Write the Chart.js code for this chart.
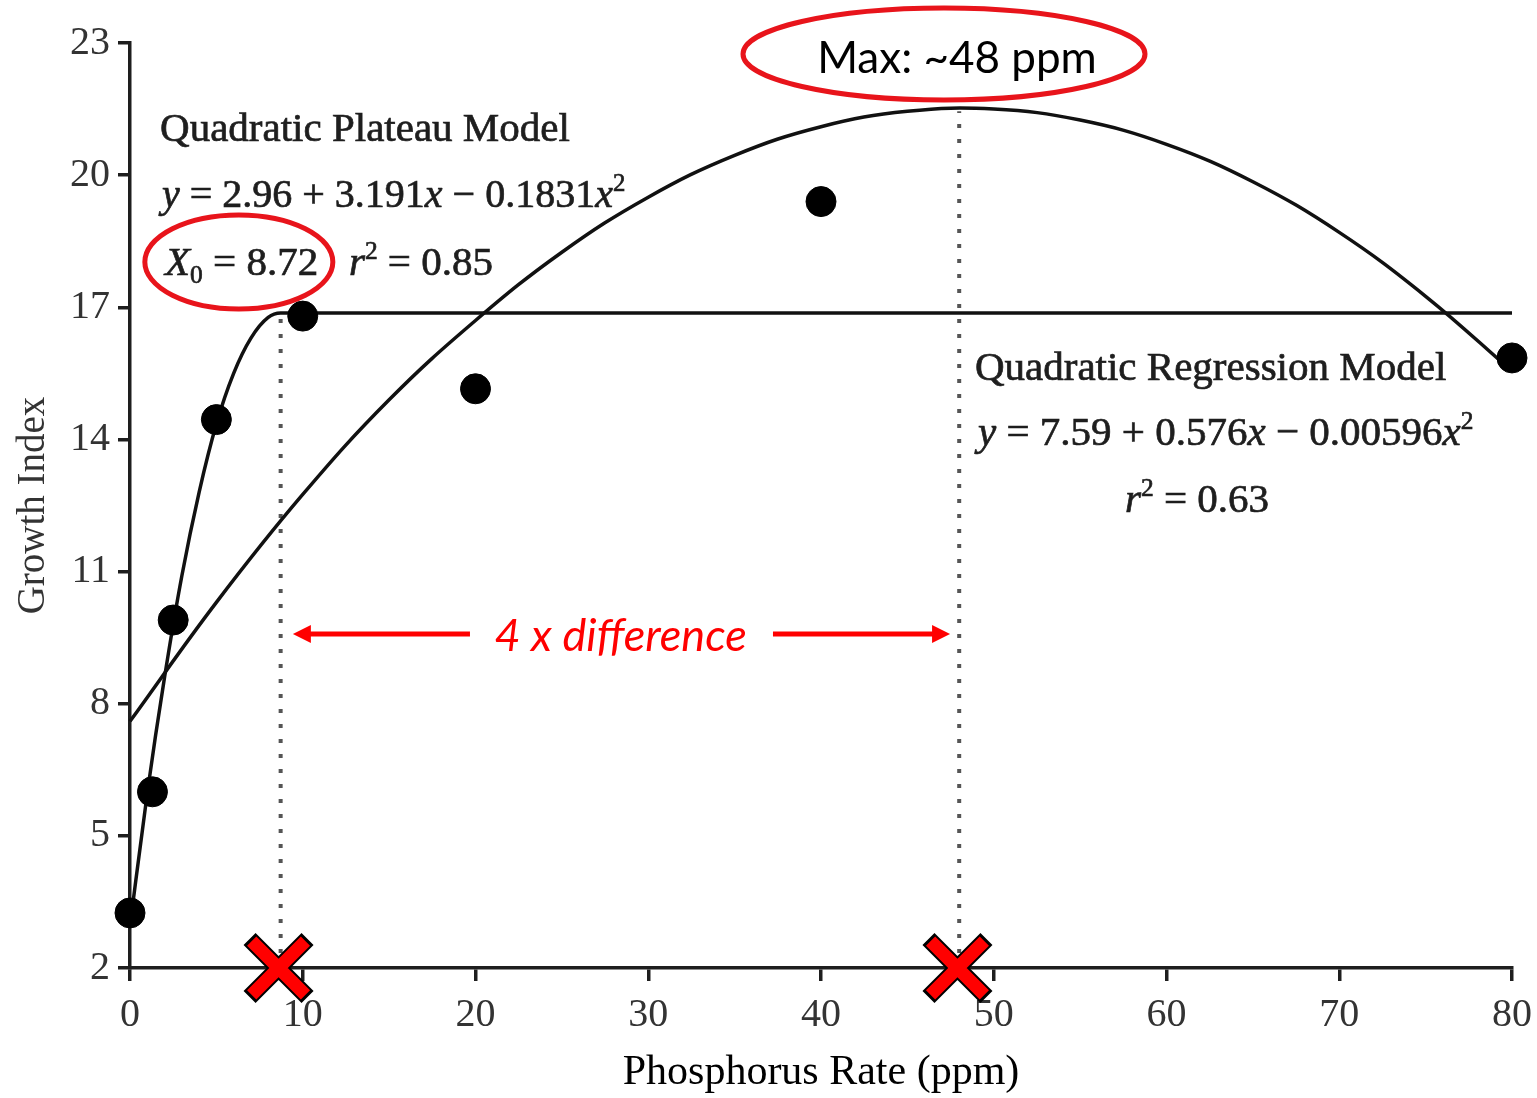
<html>

<head>
    <script src="https://cdn.jsdelivr.net/npm/chart.js"></script>
    <style>
        html,
        body {
            margin: 0;
            padding: 0;
            background: #fff;
        }

        #chart-container {
            width: 1537px;
            height: 1098px;
        }
    </style>
</head>

<body>
    <div id="chart-container">
        <canvas id="growth-chart"></canvas>
    </div>

    <script>
        // observed growth index at each phosphorus rate
        const observedRate = [0, 1.3, 2.5, 5, 10, 20, 40, 80];
        const observedGrowth = [3.25, 6.0, 9.9, 14.45, 16.8, 15.15, 19.4, 15.85];

        // quadratic plateau curve
        const plateauRate = [0, 1, 2, 3, 4, 5, 6, 7, 8, 8.72, 80];
        const plateauGrowth = [2.96, 5.97, 8.6, 10.9, 12.8, 14.35, 15.5, 16.3, 16.77, 16.87, 16.87];

        // quadratic regression curve
        const regressionRate = [0, 5, 10, 15, 20, 25, 30, 35, 40, 45, 50, 55, 60, 65, 70, 75, 80];
        const regressionGrowth = [7.6, 10.3, 12.75, 14.9, 16.7, 18.25, 19.5, 20.45, 21.1, 21.45, 21.5, 21.25, 20.7, 19.85, 18.7, 17.25, 15.55];

        // dotted guides and red crosses
        const guideRate = [8.72, 48];
        const guideTop = [16.87, 21.45];
        const crossRate = [8.6, 47.9];

        const xTicks = [0, 10, 20, 30, 40, 50, 60, 70, 80];
        const yTicks = [2, 5, 8, 11, 14, 17, 20, 23];

        const serif = '"Liberation Serif", "Times New Roman", serif';
        const sans = 'Lato, "Liberation Sans", sans-serif';

        const pts = (xs, ys) => xs.map((v, i) => ({ x: v, y: ys[i] }));

        function drawRuns(ctx, px, py, runs, size) {
            let cx = px;
            runs.forEach(r => {
                const s = (r.sup || r.sub) ? size * 0.62 : size;
                ctx.font = (r.it ? 'italic ' : '') + s + 'px ' + serif;
                const dy = r.sup ? -size * 0.4 : r.sub ? size * 0.2 : 0;
                ctx.fillText(r.t, cx, py + dy);
                ctx.strokeText(r.t, cx, py + dy);
                cx += ctx.measureText(r.t).width;
            });
        }

        function drawArrow(ctx, x1, x2, y) {
            const dir = x2 > x1 ? 1 : -1;
            ctx.beginPath();
            ctx.moveTo(x1, y);
            ctx.lineTo(x2 - dir * 12, y);
            ctx.stroke();
            ctx.beginPath();
            ctx.moveTo(x2, y);
            ctx.lineTo(x2 - dir * 18, y - 9);
            ctx.lineTo(x2 - dir * 18, y + 9);
            ctx.closePath();
            ctx.fill();
        }

        const notes = {
            id: 'notes',
            afterDatasetsDraw(chart) {
                const { ctx, scales: { x, y } } = chart;
                ctx.save();
                ctx.fillStyle = '#1e1e1e';
                ctx.strokeStyle = '#1e1e1e';
                ctx.lineWidth = 0.7;
                ctx.textBaseline = 'alphabetic';
                ctx.textAlign = 'left';

                // plateau model block
                drawRuns(ctx, x.getPixelForValue(1.74), y.getPixelForValue(20.77), [{ t: 'Quadratic Plateau Model' }], 41);
                drawRuns(ctx, x.getPixelForValue(1.85), y.getPixelForValue(19.28), [
                    { t: 'y', it: true }, { t: ' = 2.96 + 3.191' }, { t: 'x', it: true },
                    { t: ' − 0.1831' }, { t: 'x', it: true }, { t: '2', sup: true }
                ], 40);
                drawRuns(ctx, x.getPixelForValue(2.03), y.getPixelForValue(17.73), [
                    { t: 'X', it: true }, { t: '0', sub: true }, { t: ' = 8.72   ' },
                    { t: 'r', it: true }, { t: '2', sup: true }, { t: ' = 0.85' }
                ], 41);

                // regression model block
                drawRuns(ctx, x.getPixelForValue(48.91), y.getPixelForValue(15.35), [{ t: 'Quadratic Regression Model' }], 41);
                drawRuns(ctx, x.getPixelForValue(49.09), y.getPixelForValue(13.87), [
                    { t: 'y', it: true }, { t: ' = 7.59 + 0.576' }, { t: 'x', it: true },
                    { t: ' − 0.00596' }, { t: 'x', it: true }, { t: '2', sup: true }
                ], 41);
                drawRuns(ctx, x.getPixelForValue(57.6), y.getPixelForValue(12.35), [
                    { t: 'r', it: true }, { t: '2', sup: true }, { t: ' = 0.63' }
                ], 41);

                // max label
                ctx.fillStyle = '#000';
                ctx.textAlign = 'center';
                ctx.font = '44px ' + sans;
                ctx.fillText('Max: ~48 ppm', x.getPixelForValue(47.87), y.getPixelForValue(22.32));

                // red ellipses
                ctx.strokeStyle = '#e8141b';
                ctx.lineWidth = 5;
                ctx.beginPath();
                ctx.ellipse(x.getPixelForValue(6.3), y.getPixelForValue(18.03), 94, 47, 0, 0, Math.PI * 2);
                ctx.stroke();
                ctx.beginPath();
                ctx.ellipse(x.getPixelForValue(47.12), y.getPixelForValue(22.75), 201, 46, 0, 0, Math.PI * 2);
                ctx.stroke();

                // 4 x difference
                ctx.fillStyle = '#ff0000';
                ctx.strokeStyle = '#ff0000';
                ctx.lineWidth = 5;
                ctx.font = 'italic 45px ' + sans;
                ctx.fillText('4 x difference', x.getPixelForValue(28.4), y.getPixelForValue(9.2));
                const ay = y.getPixelForValue(9.58);
                drawArrow(ctx, x.getPixelForValue(19.68), x.getPixelForValue(9.43), ay);
                drawArrow(ctx, x.getPixelForValue(37.22), x.getPixelForValue(47.47), ay);

                ctx.restore();
            }
        };

        const ctx = document.getElementById('growth-chart').getContext('2d');
        const chart = new Chart(ctx, {
            type: 'scatter',
            data: {
                datasets: [
                    {
                        label: 'cross',
                        data: pts(crossRate, [2, 2]),
                        pointStyle: 'crossRot',
                        pointRadius: 38,
                        pointBorderWidth: 13,
                        pointBorderColor: '#ff0000',
                        clip: false,
                        order: 0
                    },
                    {
                        label: 'cross outline',
                        data: pts(crossRate, [2, 2]),
                        pointStyle: 'crossRot',
                        pointRadius: 41,
                        pointBorderWidth: 17,
                        pointBorderColor: '#000',
                        clip: false,
                        order: 1
                    },
                    {
                        label: 'Observed',
                        data: pts(observedRate, observedGrowth),
                        pointRadius: 15,
                        pointBackgroundColor: '#000',
                        pointBorderColor: '#000',
                        pointBorderWidth: 1,
                        clip: false,
                        order: 2
                    },
                    {
                        label: 'Quadratic Plateau',
                        data: pts(plateauRate, plateauGrowth),
                        showLine: true,
                        borderColor: '#111',
                        borderWidth: 3.5,
                        pointRadius: 0,
                        cubicInterpolationMode: 'monotone',
                        clip: false,
                        order: 3
                    },
                    {
                        label: 'Quadratic Regression',
                        data: pts(regressionRate, regressionGrowth),
                        showLine: true,
                        borderColor: '#111',
                        borderWidth: 3.5,
                        pointRadius: 0,
                        tension: 0.4,
                        clip: false,
                        order: 3
                    },
                    {
                        label: 'guide plateau',
                        data: pts([guideRate[0], guideRate[0]], [2, guideTop[0]]),
                        showLine: true,
                        borderColor: '#555',
                        borderWidth: 4,
                        borderDash: [4, 11],
                        pointRadius: 0,
                        order: 4
                    },
                    {
                        label: 'guide max',
                        data: pts([guideRate[1], guideRate[1]], [2, guideTop[1]]),
                        showLine: true,
                        borderColor: '#555',
                        borderWidth: 4,
                        borderDash: [4, 11],
                        pointRadius: 0,
                        order: 4
                    }
                ]
            },
            options: {
                responsive: true,
                maintainAspectRatio: false,
                animation: false,
                layout: {
                    autoPadding: false,
                    padding: { left: 0, right: 25, top: 43, bottom: 0 }
                },
                plugins: {
                    legend: { display: false },
                    tooltip: { enabled: false }
                },
                scales: {
                    x: {
                        type: 'linear',
                        min: 0,
                        max: 80,
                        afterBuildTicks: s => { s.ticks = xTicks.map(v => ({ value: v })); },
                        afterFit: s => {
                            s.height = 130;
                            s.paddingLeft = 0;
                            s.paddingRight = 0;
                        },
                        border: { display: true, color: '#1e1e1e', width: 3.5 },
                        grid: { drawOnChartArea: false, drawTicks: true, tickLength: 13, color: '#1e1e1e', lineWidth: 3.5 },
                        ticks: {
                            color: '#333',
                            padding: 10,
                            maxRotation: 0,
                            font: { family: serif, size: 40 }
                        },
                        title: {
                            display: true,
                            text: 'Phosphorus Rate (ppm)',
                            color: '#000',
                            padding: { top: 0, bottom: 0 },
                            font: { family: serif, size: 42 }
                        }
                    },
                    y: {
                        type: 'linear',
                        min: 2,
                        max: 23,
                        afterBuildTicks: s => { s.ticks = yTicks.map(v => ({ value: v })); },
                        afterFit: s => {
                            s.width = 130;
                            s.paddingTop = 0;
                            s.paddingBottom = 0;
                        },
                        border: { display: true, color: '#1e1e1e', width: 3.5 },
                        grid: { drawOnChartArea: false, drawTicks: true, tickLength: 12, color: '#1e1e1e', lineWidth: 3.5 },
                        ticks: {
                            color: '#333',
                            padding: 8,
                            font: { family: serif, size: 40 }
                        },
                        title: {
                            display: true,
                            text: 'Growth Index',
                            color: '#333',
                            padding: { top: 10, bottom: 0 },
                            font: { family: serif, size: 39 }
                        }
                    }
                }
            },
            plugins: [notes]
        });
    </script>
</body>

</html>
